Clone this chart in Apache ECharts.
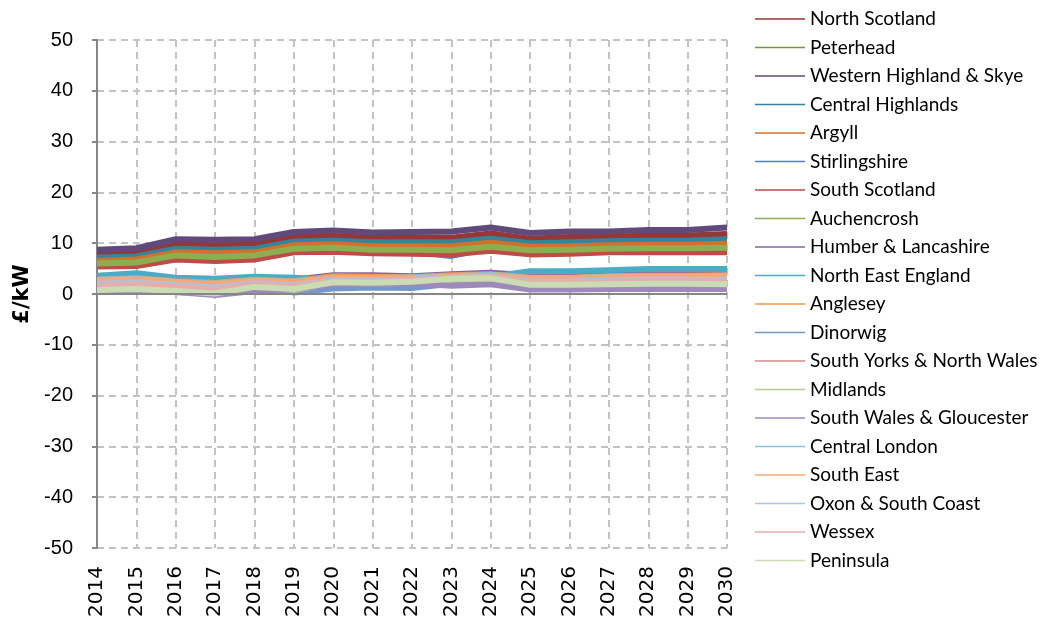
<!DOCTYPE html>
<html>
<head>
<meta charset="utf-8">
<script src="https://cdn.jsdelivr.net/npm/echarts@6/dist/echarts.min.js"></script>
<style>
  html, body { margin: 0; padding: 0; background: #fff; }
  #chart { width: 1045px; height: 627px; }
</style>
</head>
<body>
<div id="chart"></div>
<script>
var years = ['2014', '2015', '2016', '2017', '2018', '2019', '2020', '2021', '2022',
  '2023', '2024', '2025', '2026', '2027', '2028', '2029', '2030'];

// £/kW per zone
var northScotland    = [7.8, 8.1, 9.8, 9.6, 9.8, 11.2, 11.4, 11.0, 11.1, 11.1, 11.9, 10.9, 11.2, 11.2, 11.5, 11.5, 11.8];
var peterhead        = [6.1, 6.3, 7.7, 7.4, 7.7, 9.1, 9.2, 8.9, 8.8, 8.8, 9.5, 8.7, 8.9, 9.1, 9.2, 9.2, 9.3];
var westernHighland  = [8.7, 9.0, 10.8, 10.7, 10.8, 12.2, 12.5, 12.1, 12.2, 12.3, 13.1, 12.0, 12.3, 12.3, 12.6, 12.6, 13.1];
var centralHighlands = [7.2, 7.4, 8.9, 8.7, 8.9, 10.3, 10.5, 10.2, 10.2, 10.2, 10.9, 10.0, 10.2, 10.4, 10.5, 10.5, 10.8];
var argyll           = [6.5, 6.8, 8.2, 8.0, 8.2, 9.6, 9.8, 9.4, 9.4, 9.4, 10.1, 9.3, 9.4, 9.6, 9.7, 9.7, 9.9];
var stirlingshire    = [5.7, 5.9, 7.2, 6.9, 7.2, 8.6, 8.7, 8.4, 8.3, 7.5, 9.0, 8.2, 8.3, 8.6, 8.6, 8.6, 8.7];
var southScotland    = [5.4, 5.5, 6.8, 6.5, 6.8, 8.2, 8.3, 8.0, 7.9, 7.8, 8.5, 7.8, 7.9, 8.2, 8.2, 8.2, 8.2];
var auchencrosh      = [6.0, 6.2, 7.6, 7.3, 7.6, 8.9, 9.1, 8.7, 8.7, 8.6, 9.3, 8.6, 8.7, 8.9, 9.0, 9.0, 9.1];
var humberLancs      = [3.0, 3.3, 2.8, 2.4, 3.0, 2.8, 3.7, 3.7, 3.5, 3.9, 4.2, 3.7, 3.7, 3.9, 4.1, 4.1, 4.2];
var northEastEngland = [3.6, 4.1, 3.2, 3.0, 3.4, 3.2, 2.8, 2.6, 2.8, 3.2, 3.4, 4.5, 4.5, 4.7, 4.9, 4.9, 4.9];
var anglesey         = [2.8, 3.1, 2.5, 2.2, 2.8, 2.5, 3.5, 3.4, 3.3, 3.7, 3.9, 3.2, 3.2, 3.5, 3.6, 3.6, 3.7];
var dinorwig         = [1.6, 1.9, 1.4, 1.0, 1.8, 0.3, 1.1, 1.3, 1.2, 2.0, 2.4, 2.4, 2.4, 2.6, 2.8, 2.8, 2.7];
var southYorks       = [1.7, 2.0, 1.5, 1.0, 2.0, 1.6, 2.6, 2.5, 2.7, 3.1, 3.3, 2.3, 2.3, 2.5, 2.6, 2.6, 2.6];
var midlands         = [0.6, 0.8, 0.4, 0.0, 1.2, 0.8, 2.1, 2.0, 2.2, 2.8, 2.9, 1.6, 1.6, 1.7, 1.8, 1.8, 1.7];
var southWales       = [0.5, 0.7, 0.4, -0.2, 0.6, 1.0, 1.9, 2.0, 2.1, 1.6, 1.9, 0.9, 0.9, 1.0, 1.0, 1.0, 1.0];
var centralLondon    = [2.8, 3.0, 2.4, 2.0, 2.7, 2.4, 3.2, 3.1, 3.3, 3.5, 3.8, 3.1, 3.1, 3.4, 3.5, 3.5, 3.6];
var southEast        = [2.6, 2.9, 2.3, 1.9, 2.6, 2.3, 3.1, 3.0, 3.1, 3.4, 3.6, 3.0, 3.0, 3.3, 3.4, 3.4, 3.5];
var oxonSouthCoast   = [2.0, 2.2, 1.7, 1.3, 2.1, 1.7, 2.7, 2.6, 2.8, 3.2, 3.4, 2.4, 2.4, 2.7, 2.8, 2.8, 2.8];
var wessex           = [1.6, 1.9, 1.4, 0.9, 1.9, 1.5, 2.5, 2.4, 2.6, 3.1, 3.3, 2.2, 2.2, 2.4, 2.5, 2.5, 2.5];
var peninsula        = [0.8, 1.0, 0.6, 0.1, 1.4, 1.0, 2.3, 2.2, 2.4, 3.0, 3.1, 1.8, 1.8, 1.9, 2.0, 2.0, 1.9];

var zones = [
  ['North Scotland', northScotland, '#953735'],
  ['Peterhead', peterhead, '#77933C'],
  ['Western Highland & Skye', westernHighland, '#604A7B'],
  ['Central Highlands', centralHighlands, '#31859C'],
  ['Argyll', argyll, '#D2712C'],
  ['Stirlingshire', stirlingshire, '#4F81BD'],
  ['South Scotland', southScotland, '#BE4B48'],
  ['Auchencrosh', auchencrosh, '#8DAE4E'],
  ['Humber & Lancashire', humberLancs, '#8064A2'],
  ['North East England', northEastEngland, '#4BACC6'],
  ['Anglesey', anglesey, '#F79646'],
  ['Dinorwig', dinorwig, '#7597CC'],
  ['South Yorks & North Wales', southYorks, '#D08A88'],
  ['Midlands', midlands, '#B5CD8C'],
  ['South Wales & Gloucester', southWales, '#9D89BC'],
  ['Central London', centralLondon, '#86C6DA'],
  ['South East', southEast, '#F7A878'],
  ['Oxon & South Coast', oxonSouthCoast, '#ADC3E2'],
  ['Wessex', wessex, '#E3AEAD'],
  ['Peninsula', peninsula, '#CADCB3']
];

var gridDash = { color: '#C3C3C3', width: 2, type: [7, 5] };

var series = zones.map(function (z, i) {
  var s = {
    name: z[0],
    type: 'line',
    data: z[1],
    symbol: 'none',
    color: z[2],
    lineStyle: { width: 6, color: z[2] },
    emphasis: { disabled: true }
  };
  if (i === 0) {
    s.markLine = {
      silent: true,
      symbol: 'none',
      label: { show: false },
      lineStyle: { color: '#868686', width: 2, type: 'solid' },
      data: [{ yAxis: 0 }]
    };
  }
  return s;
});

var chart = echarts.init(document.getElementById('chart'));
chart.setOption({
  animation: false,
  backgroundColor: '#ffffff',
  grid: { left: 97, right: 318, top: 40, bottom: 79 },
  legend: {
    orient: 'vertical',
    left: 755,
    top: 9,
    padding: 0,
    icon: 'rect',
    itemWidth: 50,
    itemHeight: 1.5,
    itemGap: 8.5,
    textStyle: { fontFamily: 'Lato', fontSize: 19, lineHeight: 20, color: '#000' },
    data: zones.map(function (z) { return z[0]; })
  },
  xAxis: {
    type: 'category',
    data: years,
    boundaryGap: false,
    axisLine: { show: false },
    axisTick: { show: false },
    axisLabel: {
      interval: 0,
      rotate: 90,
      margin: 18,
      fontFamily: 'DejaVu Sans',
      fontSize: 20,
      color: '#000'
    },
    splitLine: { show: true, lineStyle: gridDash }
  },
  yAxis: {
    type: 'value',
    min: -50,
    max: 50,
    interval: 10,
    name: '£/kW',
    nameLocation: 'middle',
    nameGap: 63,
    nameTextStyle: { fontFamily: 'DejaVu Sans', fontSize: 21, fontWeight: 'bold', color: '#000' },
    axisLine: { show: true, lineStyle: { color: '#868686', width: 2 } },
    axisTick: { show: true, length: 5, lineStyle: { color: '#868686', width: 2 } },
    axisLabel: { margin: 24, fontFamily: 'Liberation Sans', fontSize: 20, color: '#000' },
    splitLine: { show: true, lineStyle: gridDash }
  },
  series: series
});
</script>
</body>
</html>
